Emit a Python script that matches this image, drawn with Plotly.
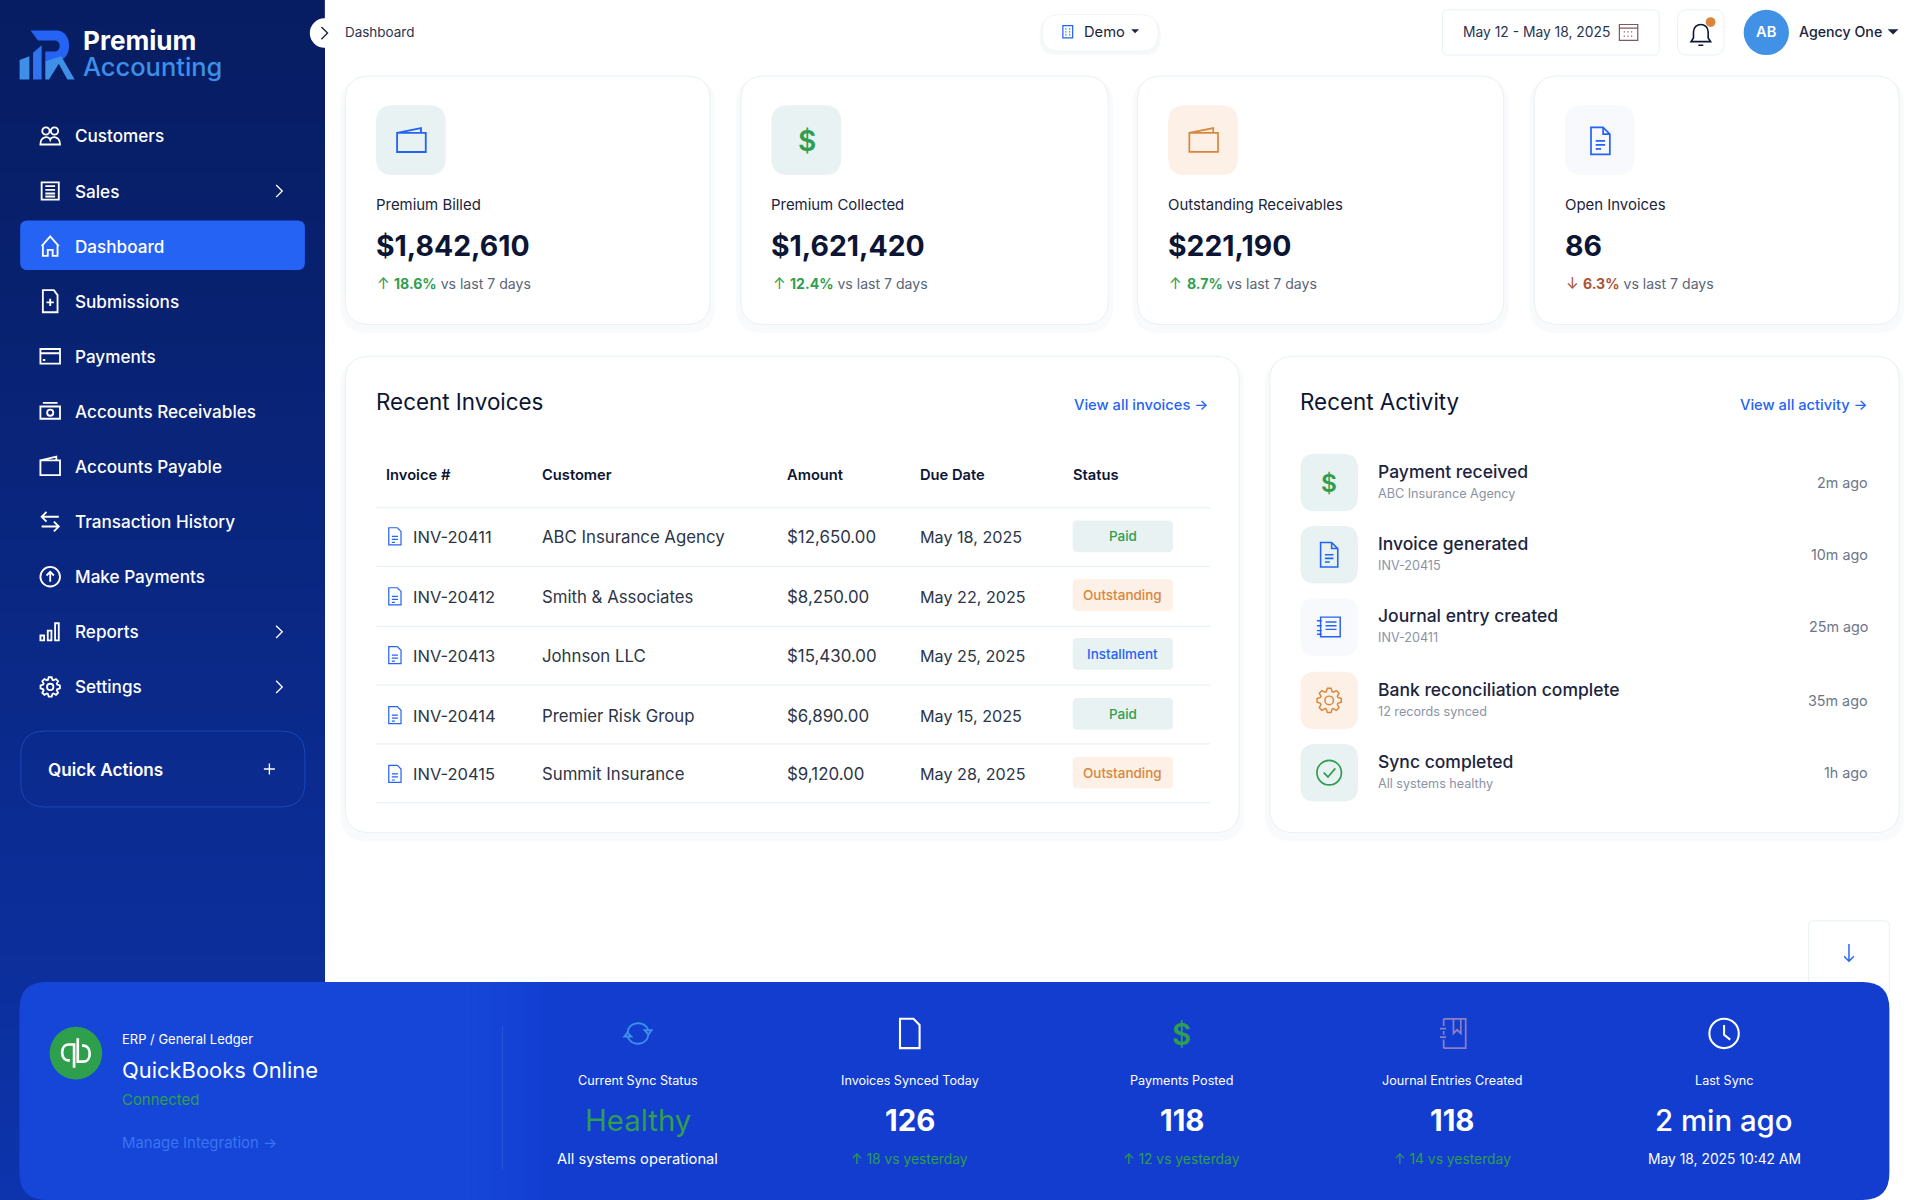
import numpy as np
import plotly.graph_objects as go

# everything is laid out on a 1568x980 grid, then shown at 1920x1200
S = 1920 / 1568
FONT = "Inter"

nav_items = ["Customers", "Sales", "Dashboard", "Submissions", "Payments", "Accounts Receivables",
             "Accounts Payable", "Transaction History", "Make Payments", "Reports", "Settings"]
nav_chevrons = ["Sales", "Reports", "Settings"]

kpi_labels = ["Premium Billed", "Premium Collected", "Outstanding Receivables", "Open Invoices"]
kpi_values = ["$1,842,610", "$1,621,420", "$221,190", "86"]
kpi_deltas = ["18.6%", "12.4%", "8.7%", "6.3%"]
kpi_up = [True, True, True, False]

invoice_headers = ["Invoice #", "Customer", "Amount", "Due Date", "Status"]
invoice_ids = ["INV-20411", "INV-20412", "INV-20413", "INV-20414", "INV-20415"]
invoice_customers = ["ABC Insurance Agency", "Smith & Associates", "Johnson LLC", "Premier Risk Group", "Summit Insurance"]
invoice_amounts = ["$12,650.00", "$8,250.00", "$15,430.00", "$6,890.00", "$9,120.00"]
invoice_dates = ["May 18, 2025", "May 22, 2025", "May 25, 2025", "May 15, 2025", "May 28, 2025"]
invoice_status = ["Paid", "Outstanding", "Installment", "Paid", "Outstanding"]

activity_titles = ["Payment received", "Invoice generated", "Journal entry created",
                   "Bank reconciliation complete", "Sync completed"]
activity_subs = ["ABC Insurance Agency", "INV-20415", "INV-20411", "12 records synced", "All systems healthy"]
activity_times = ["2m ago", "10m ago", "25m ago", "35m ago", "1h ago"]

stat_labels = ["Current Sync Status", "Invoices Synced Today", "Payments Posted", "Journal Entries Created", "Last Sync"]
stat_values = ["Healthy", "126", "118", "118", "2 min ago"]
stat_subs = ["All systems operational", "↑ 18 vs yesterday", "↑ 12 vs yesterday", "↑ 14 vs yesterday", "May 18, 2025 10:42 AM"]

BLUE = "#2563f5"
GREEN = "#2f9e4f"
ORANGE = "#d9863c"
INK = "#0c1533"
TEAL_BG = "#e8f2f2"
PEACH_BG = "#fdf0e6"
PALE_BG = "#f7f9fc"
BORDER = "#e8f1f4"

shapes = []
annotations = []


def txt(x, y, s, size, color=INK, weight=400, anchor="left"):
    # the page draws text a touch right of and above where the grid says
    dx = -0.8 if anchor == "left" else (0.5 if anchor == "right" else 0)
    annotations.append(dict(x=x + dx, y=y + 0.7, xref="x", yref="y", text=s, showarrow=False, xanchor=anchor, yanchor="middle",
                            borderpad=0, font=dict(family=FONT, size=size * S, color=color, weight=weight)))


def rrect(x0, y0, x1, y1, r, fill="white", line=None, width=1):
    d = (f"M {x0 + r} {y0} L {x1 - r} {y0} Q {x1} {y0} {x1} {y0 + r} L {x1} {y1 - r} Q {x1} {y1} {x1 - r} {y1} "
         f"L {x0 + r} {y1} Q {x0} {y1} {x0} {y1 - r} L {x0} {y0 + r} Q {x0} {y0} {x0 + r} {y0} Z")
    shapes.append(dict(type="path", path=d, xref="x", yref="y", fillcolor=fill,
                       line=dict(color=line or "rgba(0,0,0,0)", width=width if line else 0)))


def band(x0, y0, x1, y1, fill):
    shapes.append(dict(type="rect", x0=x0, y0=y0, x1=x1, y1=y1, xref="x", yref="y", fillcolor=fill, line=dict(width=0)))


def circle_d(x, y, r):
    c = r * 0.5523
    return (f"M {x - r} {y} C {x - r} {y - c} {x - c} {y - r} {x} {y - r} C {x + c} {y - r} {x + r} {y - c} {x + r} {y} "
            f"C {x + r} {y + c} {x + c} {y + r} {x} {y + r} C {x - c} {y + r} {x - r} {y + c} {x - r} {y} Z ")


def gear_d(r0, r1, teeth):
    pts = []
    for i in range(teeth):
        a = 2 * np.pi * i / teeth
        w = np.pi / teeth * 0.55
        for da, r in [(-w * 1.5, r0), (-w * 0.7, r1), (w * 0.7, r1), (w * 1.5, r0)]:
            pts.append((r * np.sin(a + da), -r * np.cos(a + da)))
    return "M " + " L ".join(f"{px:.2f} {py:.2f}" for px, py in pts) + " Z "


def icon(d, cx, cy, color, width=1.4, k=1, fill=None):
    # icon strings are absolute M/L/C/Q paths around 0,0
    out = []
    is_x = True
    for tok in d.split():
        if tok.isalpha():
            out.append(tok)
            is_x = True
        else:
            out.append(f"{float(tok) * k + (cx if is_x else cy):.2f}")
            is_x = not is_x
    shapes.append(dict(type="path", path=" ".join(out), xref="x", yref="y", fillcolor=fill or "rgba(0,0,0,0)",
                       line=dict(color=color, width=width * S) if width else dict(width=0)))


CHEVRON = "M -2.5 -5 L 2.5 0 L -2.5 5"
CARET = "M -4 -2 L 4 -2 L 0 2 Z"
WALLET = "M -9 -5 L 6 -8 L 6 -5 M -9 -5 L 9 -5 L 9 7 L -9 7 Z"
DOC = "M -7 -10 L 2 -10 L 7 -5 L 7 10 L -7 10 Z M 2 -10 L 2 -5 L 7 -5 M -3.5 0 L 3.5 0 M -3.5 3 L 3.5 3 M -3.5 6 L 0.5 6"
JOURNAL = ("M -7 -8 L 9 -8 L 9 8 L -7 8 Z M -3 -4 L 6 -4 M -3 -1 L 6 -1 M -3 2 L 6 2 "
           "M -10 -5 L -6 -5 M -10 -1 L -6 -1 M -10 3 L -6 3 M -10 6 L -6 6")
NAV_ICONS = [
    circle_d(-3.5, -4, 3) + circle_d(3.5, -4, 3) + "M -8 7 C -8 0 -1 0 0 3 C 1 0 8 0 8 7 Z",
    "M -7 -7 L 7 -7 L 7 7 L -7 7 Z M -4 -4 L 4 -4 M -4 -1 L 4 -1 M -4 2 L 4 2 M -4 4.5 L 4 4.5",
    "M -7 0 L 0 -8 L 7 0 M -6 -1 L -6 8 L -2 8 L -2 3 L 2 3 L 2 8 L 6 8 L 6 -1",
    "M -6 -9 L 3 -9 L 6 -5 L 6 9 L -6 9 Z M 0 -2 L 0 4 M -3 1 L 3 1",
    "M -8 -6 L 8 -6 L 8 6 L -8 6 Z M -8 -2.5 L 8 -2.5 M -6 3 L -4 3",
    "M -8 -4 L 8 -4 L 8 6 L -8 6 Z M -6 -7 L 6 -7 " + circle_d(0, 1, 2.5),
    "M -8 -5 L 5 -8 L 5 -5 M -8 -5 L 8 -5 L 8 7 L -8 7 Z",
    "M 7 -4 L -7 -4 M -3 -8 L -7 -4 L -3 0 M -7 4 L 7 4 M 3 0 L 7 4 L 3 8",
    circle_d(0, 0, 8) + "M 0 4 L 0 -4 M -3 -1 L 0 -4 L 3 -1",
    "M -8 3 L -5 3 L -5 7 L -8 7 Z M -2 -1 L 1 -1 L 1 7 L -2 7 Z M 4 -7 L 7 -7 L 7 7 L 4 7 Z",
    gear_d(6, 8, 8) + circle_d(0, 0, 2.6),
]

# sidebar gradient, each step runs to the bottom so no seams show between them
top = np.array([7, 29, 99])
bottom = np.array([13, 52, 172])
for i in range(49):
    c = top + (bottom - top) * (i / 48) ** 1.2
    band(0, i * 20, 265.3, 980, f"rgb({c[0]:.0f},{c[1]:.0f},{c[2]:.0f})")

# logo
icon("M 16 49 L 24 46 L 24 65 L 16 65 Z", 0, 0, "", 0, fill="#3d8fe8")
icon("M 27 43 L 34 37 L 34 65 L 27 65 Z", 0, 0, "", 0, fill="#2f74ee")
icon("M 25 25 L 46 25 C 60 25 60 50 46 50 L 37 50 L 37 42 L 45 42 C 50 42 50 33 45 33 L 31 33 Z", 0, 0, "", 0, fill=BLUE)
icon("M 37 50 L 37 65 L 40 65 L 48 52 L 55 65 L 61 65 L 50 46 Z", 0, 0, "", 0, fill="#3d8fe8")
txt(68, 32, "Premium", 21.3, "white", 700)
txt(68, 53.5, "Accounting", 20.8, "#3d8fe8", 500)

# navigation
rrect(16.5, 180, 249, 220.5, 6, BLUE)
for i, item in enumerate(nav_items):
    y = 111 + 45 * i
    icon(NAV_ICONS[i], 41, y, "white", 1.5)
    txt(61, y - 0.7, item, 14, "white", 500)
    if item in nav_chevrons:
        icon(CHEVRON, 228, y, "white", 1.1)

rrect(17, 597, 249, 659, 20, "rgba(0,0,0,0)", "#1a47b8", 1)
txt(39, 628, "Quick Actions", 14, "white", 600)
icon("M -4.5 0 L 4.5 0 M 0 -4.5 L 0 4.5", 220, 628, "white", 1.1)

# collapse button and breadcrumb
shapes.append(dict(type="circle", x0=253, y0=15, x1=277, y1=39, xref="x", yref="y", fillcolor="white", line=dict(width=0)))
icon(CHEVRON, 265, 27, "#1b2440", 1.1)
txt(281.5, 25.5, "Dashboard", 11, "#2a3350")

# top bar
rrect(849, 14, 948, 45, 14, "#f6f9fa")
rrect(851, 12, 946, 42, 14, "white", "#f0f4f6")
icon("M -4 -5 L 4 -5 L 4 5 L -4 5 Z M -2 -2.5 L -1 -2.5 M 1 -2.5 L 2 -2.5 M -2 0 L -1 0 M 1 0 L 2 0 M -2 2.5 L -1 2.5 M 1 2.5 L 2 2.5", 872, 26, BLUE, 1)
txt(885, 25.5, "Demo", 12, "#1b2440", 400)
icon(CARET, 927, 25.5, "#1b2440", 0, 0.8, fill="#1b2440")

rrect(1178, 8, 1355, 45, 4, "white", BORDER)
txt(1195, 25.3, "May 12 - May 18, 2025", 11.3, "#2a3350", anchor="left")
icon("M -7.5 -6 L 7.5 -6 L 7.5 7 L -7.5 7 Z M -7.5 -3 L 7.5 -3 M -4 0 L -3 0 M -1 0 L 0 0 M 2 0 L 3 0 "
     "M -4 3.5 L -3 3.5 M -1 3.5 L 0 3.5 M 2 3.5 L 3 3.5", 1330, 26, "#7d5a62", 1)
rrect(1370, 8, 1408, 45, 8, "white", BORDER)
icon("M -8 6 L -6 3 L -6 -2 C -6 -10 6 -10 6 -2 L 6 3 L 8 6 Z M -2 9 L 2 9", 1389, 28, "#0c1533", 1.3)
shapes.append(dict(type="circle", x0=1393, y0=14, x1=1401, y1=22, xref="x", yref="y", fillcolor=ORANGE, line=dict(width=0)))
shapes.append(dict(type="circle", x0=1424, y0=8, x1=1461, y1=45, xref="x", yref="y", fillcolor="#4191e6", line=dict(width=0)))
txt(1442.5, 25.5, "AB", 12, "white", 600, "center")
txt(1469, 25, "Agency One", 11.6, "#1b2440", 500)
icon(CARET, 1546, 26, "#1b2440", 0, 1.1, fill="#1b2440")

# kpi cards
card_x = [(282, 580), (605, 905), (929, 1228), (1253, 1551)]
icon_bg = [TEAL_BG, TEAL_BG, PEACH_BG, PALE_BG]
for i, (x0, x1) in enumerate(card_x):
    rrect(x0 - 4, 64, x1 + 4, 272, 22, "#f8fafc")
    rrect(x0, 62, x1, 265, 20, "white", BORDER)
    xt = x0 + 25
    rrect(xt, 86, xt + 57, 143, 14, icon_bg[i])
    if i == 0:
        icon(WALLET, xt + 29, 115, BLUE, 1.5, 1.3)
    elif i == 1:
        txt(xt + 29, 114.5, "$", 23, GREEN, 600, "center")
    elif i == 2:
        icon(WALLET, xt + 29, 115, ORANGE, 1.4, 1.3)
    else:
        icon(DOC, xt + 29, 115, BLUE, 1.4, 1.1)
    txt(xt, 167, kpi_labels[i], 12.2, "#1b2440")
    txt(xt, 200, kpi_values[i], 23.2, INK, 700)
    col = GREEN if kpi_up[i] else "#ad5236"
    arrow = "↑" if kpi_up[i] else "↓"
    txt(xt + 1, 231, f'<span style="color:{col}">{arrow}</span>', 12.5, col)
    txt(xt + 15, 231, f'<span style="color:{col}"><b>{kpi_deltas[i]}</b></span>'
        f' <span style="color:#5b6478">vs last 7 days</span>', 11.5, "#5b6478")

# recent invoices
rrect(278, 293, 1016, 687, 22, "#f8fafc")
rrect(282, 291, 1012, 680, 20, "white", BORDER)
txt(307, 327.5, "Recent Invoices", 18.3, INK, 400)
txt(987, 330, "View all invoices →", 12, BLUE, 500, "right")
col_x = [315, 443, 643, 751, 876]
for x, h in zip(col_x, invoice_headers):
    txt(x, 387.5, h, 12, INK, 600)
row_y = [438, 487, 535, 584, 632]
pill_y = [438, 486, 534, 583, 631]
line_y = [414, 462, 511, 559, 607, 655]
for y in line_y:
    band(307, y, 988, y + 1, BORDER)
pill_colors = {"Paid": (TEAL_BG, GREEN), "Outstanding": (PEACH_BG, ORANGE), "Installment": (TEAL_BG, BLUE)}
for i, y in enumerate(row_y):
    icon("M -5 -7 L 2 -7 L 5 -4 L 5 7 L -5 7 Z M -2.5 0 L 2.5 0 M -2.5 2.5 L 2.5 2.5 M -2.5 5 L 0 5", 322.5, y, BLUE, 1)
    txt(337, y - 0.3, invoice_ids[i], 13.5, "#2d3548")
    txt(col_x[1], y - 0.3, invoice_customers[i], 13.7, "#2d3548")
    txt(col_x[2], y - 0.3, invoice_amounts[i], 13.8, "#2d3548")
    txt(col_x[3], y - 0.3, invoice_dates[i], 13.2, "#2d3548")
    bg, fg = pill_colors[invoice_status[i]]
    rrect(876, pill_y[i] - 13, 958, pill_y[i] + 13, 4, bg)
    txt(917, pill_y[i] - 0.7, invoice_status[i], 11, fg, 500, "center")

# recent activity
rrect(1033, 293, 1555, 687, 22, "#f8fafc")
rrect(1037, 291, 1551, 680, 20, "white", BORDER)
txt(1062, 327.5, "Recent Activity", 18.3, INK, 400)
txt(1526, 330, "View all activity →", 12, BLUE, 500, "right")
act_y = [394, 453, 512, 572, 631]
act_bg = [TEAL_BG, TEAL_BG, PALE_BG, PEACH_BG, TEAL_BG]
for i, y in enumerate(act_y):
    rrect(1062, y - 23.5, 1109, y + 23.5, 12, act_bg[i])
    if i == 0:
        txt(1085.5, y, "$", 20, GREEN, 600, "center")
    elif i == 1:
        icon(DOC, 1085.5, y, BLUE, 1.3)
    elif i == 2:
        icon(JOURNAL, 1085.5, y, BLUE, 1.2)
    elif i == 3:
        icon(gear_d(7.5, 10, 8) + circle_d(0, 0, 3.5), 1085.5, y, ORANGE, 1.2)
    else:
        icon(circle_d(0, 0, 10) + "M -4.5 0 L -1 3.5 L 5 -3.5", 1085.5, y, GREEN, 1.4)
    txt(1125, y - 9.7, activity_titles[i], 14.3, "#1b2440", 500)
    txt(1125, y + 8.3, activity_subs[i], 10.3, "#8a93a5")
    txt(1526, y - 0.5, activity_times[i], 11.7, "#6d7688", anchor="right")

# scroll button
rrect(1477, 752, 1543, 812, 4, "white", BORDER)
icon("M 0 -7 L 0 7 M -4 3 L 0 7 L 4 3", 1510, 778, BLUE, 1.2)

# integration bar
rrect(16, 802, 1543, 980, 22, "#123dcf")
icon("M 38 802 L 385 802 L 385 980 L 38 980 Q 16 980 16 958 L 16 824 Q 16 802 38 802 Z", 0, 0, "", 0, fill="#1546d8")
for i in range(15):
    t = i / 14
    band(385 + i * 5, 802, 390.5 + i * 5, 980,
         f"rgb({21 - 3 * t:.0f},{70 - 9 * t:.0f},{216 - 9 * t:.0f})")
band(410, 838, 410.7, 956, "#2a57dc")

shapes.append(dict(type="circle", x0=40.5, y0=838.5, x1=83.5, y1=881.5, xref="x", yref="y", fillcolor="#2e9f4c", line=dict(width=0)))
icon("M -1.5 12 L -1.5 -7 L -6 -7 C -13 -7 -13 6 -6 6 L -5 6 M 1.5 -12 L 1.5 7 L 6 7 C 13 7 13 -6 6 -6 L 5 -6", 62, 860, "white", 2.2)
txt(100, 847.5, "ERP / General Ledger", 10.6, "white")
txt(100, 873.3, "QuickBooks Online", 17.9, "white", 400)
txt(100, 897.5, "Connected", 12.2, GREEN)
txt(100, 932.5, "Manage Integration →", 12.2, "#3a74f2")

stat_x = [521, 743, 965, 1186, 1408]
stat_icons = [
    ("M -10 -1 C -9 -12 7 -13 10 -3 M 10 1 C 9 12 -7 13 -10 3 M 6.5 -3 L 13 -3 L 10 1 Z M -13 3 L -6.5 3 L -10 -1 Z", "#3d8fe8", 1.6, 0.85),
    ("M -8 -12 L 3 -12 L 8 -7 L 8 12 L -8 12 Z", "white", 1.7, 1),
    None,
    ("M -7 -12 L 11 -12 L 11 12 L -7 12 M -7 -12 L -7 -6 M -7 -2 L -7 1 M -7 5 L -7 12 M 1 -12 L 1 0 L 4 -3 L 7 0 L 7 -12 "
     "M -10 -4 L -5 -4 M -10 3 L -5 3", "#8d7fc4", 1.4, 1),
    (circle_d(0, 0, 12) + "M 0 -7 L 0 1 L 5 5", "white", 1.7, 1),
]
for i, x in enumerate(stat_x):
    if stat_icons[i] is None:
        txt(x, 844, "$", 24, GREEN, 600, "center")
    else:
        d, col, w, k = stat_icons[i]
        icon(d, x, 844, col, w, k)
    txt(x, 881.7, stat_labels[i], 10.3, "white", 400, "center")
    val_col = GREEN if stat_values[i] == "Healthy" else "white"
    val_w = 400 if stat_values[i] == "Healthy" else (500 if i == 4 else 700)
    txt(x, 914.3, stat_values[i], 24, val_col, val_w, "center")
    sub_col = "white" if i in (0, 4) else GREEN
    txt(x, 945.7, stat_subs[i], 12 if i == 0 else 11.3, sub_col, 400, "center")

fig = go.Figure()
fig.update_layout(
    width=1920,
    height=1200,
    margin=dict(l=0, r=0, t=0, b=0),
    paper_bgcolor="white",
    plot_bgcolor="white",
    showlegend=False,
    xaxis=dict(range=[0, 1568], visible=False, fixedrange=True),
    yaxis=dict(range=[980, 0], visible=False, fixedrange=True),
    shapes=shapes,
    annotations=annotations,
)
fig.write_html("out.html", config={"displayModeBar": False},
               post_script="document.body.style.margin='0';document.body.style.overflow='hidden';")
